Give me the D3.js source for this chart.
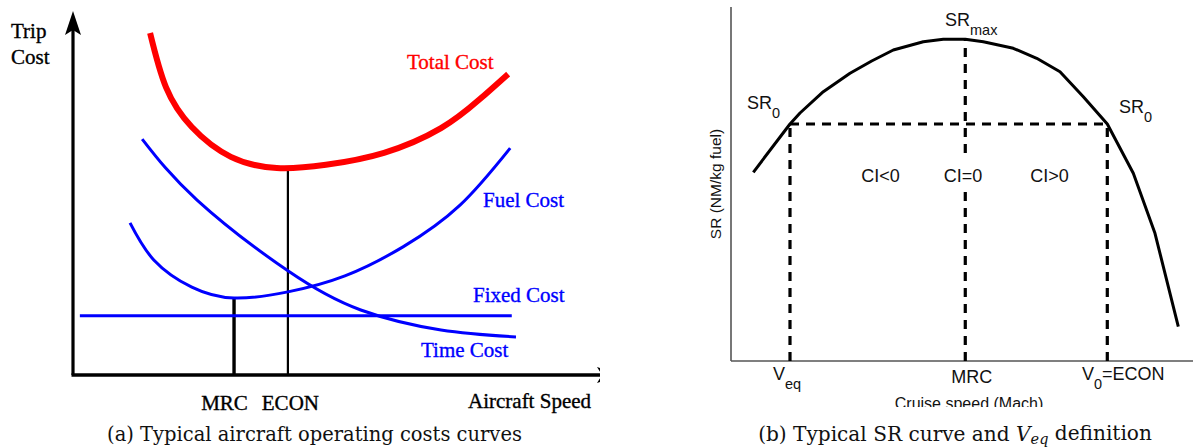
<!DOCTYPE html>
<html>
<head>
<meta charset="utf-8">
<script src="https://cdn.jsdelivr.net/npm/d3@7"></script>
<style>
  html, body { margin: 0; padding: 0; background: #fff; }
  svg { display: block; }
</style>
</head>
<body>
<svg id="chart" width="1193" height="448"></svg>
<script>
// ---------- (a) operating cost curves: [speed, cost] in arbitrary units ----------
const totalCost = [[1.46,9.42],[1.76,7.93],[2.25,6.83],[2.99,6.01],[3.86,5.70],[4.79,5.79],[5.89,6.12],[6.97,6.80],[7.69,7.58],[8.24,8.29]];
const fuelCost  = [[1.08,4.19],[1.53,3.17],[2.25,2.42],[3.05,2.12],[4.07,2.29],[5.15,2.73],[6.25,3.53],[7.33,4.68],[8.28,6.25]];
const timeCost  = [[1.31,6.50],[2.35,4.82],[4.07,2.87],[5.45,1.79],[6.97,1.24],[8.39,1.05]];
const fixedCost = [[0.13,1.63],[8.31,1.63]];
const costSpeeds = [{name:"MRC", speed:3.05, cost:2.12}, {name:"ECON", speed:4.07, cost:5.70}];

// ---------- (b) specific range curve: [speed, SR] in normalised units ----------
const srCurve = [[4.83,53.31],[12.77,66.95],[14.94,70.06],[19.98,76.07],[25.76,81.27],[30.45,84.75],[35.13,87.85],[41.62,90.20],[45.95,90.88],[50.71,90.88],[54.61,90.20],[61.10,88.33],[66.17,85.51],[71.21,81.72],[76.26,74.66],[81.45,66.95],[87.08,53.02],[91.77,36.07],[96.82,9.69]];
const srZero = 66.95, srMax = 90.88;
const srSpeeds = {veq: 12.77, mrc: 50.71, v0: 81.45};
const ciLabels = ["CI<0", "CI=0", "CI>0"];

const svg = d3.select("#chart");
const serif = "'Liberation Serif', 'Times New Roman', serif";
const sans = "'Liberation Sans', Arial, sans-serif";
const capFont = "'DejaVu Serif', serif";

// ================= panel (a) =================
const defs = svg.append("defs");
defs.append("clipPath").attr("id", "clipA").append("rect").attr("x", 0).attr("y", 0).attr("width", 600).attr("height", 448);
defs.append("clipPath").attr("id", "clipB").append("rect").attr("x", 690).attr("y", 0).attr("width", 503).attr("height", 407);

const gA = svg.append("g").attr("clip-path", "url(#clipA)");
const xA = d3.scaleLinear().domain([0, 10]).range([73, 601]);
const yA = d3.scaleLinear().domain([0, 10]).range([375, 12]);
const lineA = d3.line().x(d => xA(d[0])).y(d => yA(d[1])).curve(d3.curveNatural);

// axes with arrow heads
gA.append("line").attr("x1", xA(0)).attr("y1", yA(0)).attr("x2", xA(0)).attr("y2", 22)
  .attr("stroke", "#000").attr("stroke-width", 3.2);
gA.append("line").attr("x1", xA(0) - 1.5).attr("y1", yA(0)).attr("x2", 600).attr("y2", yA(0))
  .attr("stroke", "#000").attr("stroke-width", 3.4);
gA.append("path")
  .attr("d", `M${xA(0)},11 L${xA(0)+8},35 L${xA(0)},30 L${xA(0)-8},35 Z`).attr("fill", "#000");
gA.append("path")
  .attr("d", `M621,${yA(0)} L597,${yA(0)-8} L602,${yA(0)} L597,${yA(0)+8} Z`).attr("fill", "#000");

// vertical markers at MRC and ECON
gA.selectAll(".marker").data(costSpeeds).join("line")
  .attr("x1", d => xA(d.speed)).attr("x2", d => xA(d.speed))
  .attr("y1", yA(0)).attr("y2", d => yA(d.cost))
  .attr("stroke", "#000").attr("stroke-width", (d, i) => i === 0 ? 3.4 : 2.2);

// cost curves
const curves = [
  {data: fixedCost, color: "#0000ff", w: 3},
  {data: timeCost, color: "#0000ff", w: 3},
  {data: fuelCost, color: "#0000ff", w: 3},
  {data: totalCost, color: "#ff0000", w: 6}
];
gA.selectAll(".curve").data(curves).join("path")
  .attr("d", d => lineA(d.data))
  .attr("fill", "none").attr("stroke", d => d.color).attr("stroke-width", d => d.w)
  .attr("stroke-linecap", "butt");

// labels
const labelsA = [
  {t: "Total Cost", x: 407, y: 69, c: "#ff0000"},
  {t: "Fuel Cost", x: 483, y: 207, c: "#0000ff"},
  {t: "Fixed Cost", x: 473, y: 302, c: "#0000ff"},
  {t: "Time Cost", x: 421, y: 357, c: "#0000ff"},
  {t: "Trip", x: 11, y: 38, c: "#000"},
  {t: "Cost", x: 11, y: 64, c: "#000"},
  {t: "Aircraft Speed", x: 468, y: 408, c: "#000"}
];
gA.selectAll(".lab").data(labelsA).join("text")
  .attr("x", d => d.x).attr("y", d => d.y).text(d => d.t)
  .attr("font-family", serif).attr("font-size", 21).attr("fill", d => d.c)
  .attr("stroke", d => d.c).attr("stroke-width", 0.35);
gA.selectAll(".tick").data(costSpeeds).join("text")
  .attr("x", (d, i) => xA(d.speed) + (i === 0 ? -9.5 : 2.5)).attr("y", 410)
  .attr("text-anchor", "middle").text(d => d.name)
  .attr("font-family", serif).attr("font-size", 21).attr("fill", "#000")
  .attr("stroke", "#000").attr("stroke-width", 0.35);

// captions, sized to their measured line widths
function fitWidth(sel, target) {
  const w = sel.node().getComputedTextLength();
  const size = parseFloat(sel.attr("font-size"));
  if (w > 0) sel.attr("font-size", size * target / w);
}
const capA = svg.append("text").attr("x", 314.5).attr("y", 441).attr("text-anchor", "middle")
  .attr("font-family", capFont).attr("font-size", 17).attr("fill", "#111")
  .text("(a) Typical aircraft operating costs curves");
fitWidth(capA, 415);

// ================= panel (b) =================
const gB = svg.append("g").attr("clip-path", "url(#clipB)");
const xB = d3.scaleLinear().domain([0, 100]).range([731, 1193]);
const yB = d3.scaleLinear().domain([0, 100]).range([361, 7]);

gB.append("line").attr("x1", xB(0)).attr("x2", xB(0)).attr("y1", yB(100)).attr("y2", yB(0))
  .attr("stroke", "#555").attr("stroke-width", 1.6);
gB.append("line").attr("x1", xB(0)).attr("x2", xB(100)).attr("y1", yB(0)).attr("y2", yB(0))
  .attr("stroke", "#555").attr("stroke-width", 1.6);

// dashed guide lines
const dash = "9,7";
const guides = [
  [srSpeeds.veq, 0, srSpeeds.veq, srZero],
  [srSpeeds.v0, 0, srSpeeds.v0, srZero],
  [srSpeeds.mrc, 0, srSpeeds.mrc, srMax],
  [srSpeeds.veq, srZero, srSpeeds.v0, srZero]
];
gB.selectAll(".guide").data(guides).join("line")
  .attr("x1", d => xB(d[0])).attr("y1", d => yB(d[1]))
  .attr("x2", d => xB(d[2])).attr("y2", d => yB(d[3]))
  .attr("stroke", "#000").attr("stroke-width", 3.2).attr("stroke-dasharray", dash);

// SR curve
gB.append("path").datum(srCurve)
  .attr("d", d3.line().x(d => xB(d[0])).y(d => yB(d[1])))
  .attr("fill", "none").attr("stroke", "#000").attr("stroke-width", 3).attr("stroke-linejoin", "round");

// label with optional subscript and trailing text
function subLabel(g, x, y, main, sub, tail, size, subSize, anchor) {
  const t = g.append("text").attr("x", x).attr("y", y)
    .attr("font-family", sans).attr("font-size", size).attr("fill", "#111")
    .attr("text-anchor", anchor || "start");
  t.append("tspan").text(main);
  if (sub) t.append("tspan").attr("dy", 9).attr("font-size", subSize).text(sub);
  if (tail) t.append("tspan").attr("dy", -9).text(tail);
  return t;
}
subLabel(gB, 945, 26, "SR", "max", null, 18, 14.5);
subLabel(gB, 747, 109, "SR", "0", null, 18, 14.5);
subLabel(gB, 1119, 113, "SR", "0", null, 18, 14.5);
subLabel(gB, 773, 380, "V", "eq", null, 18, 14.5);
subLabel(gB, 1082, 380, "V", "0", "=ECON", 18, 14.5);
subLabel(gB, xB(srSpeeds.mrc) + 6.5, 383, "MRC", null, null, 18, 14.5, "middle");

// CI region labels (the middle one masks the MRC guide)
const ciX = [880.5, 963, 1049.5];
gB.append("rect").attr("x", 941).attr("y", 160).attr("width", 44).attr("height", 29).attr("fill", "#fff");
gB.selectAll(".ci").data(ciLabels).join("text")
  .attr("x", (d, i) => ciX[i]).attr("y", 182).attr("text-anchor", "middle")
  .attr("font-family", sans).attr("font-size", 18).attr("fill", "#111").text(d => d);

gB.append("text").attr("x", 969).attr("y", 409).attr("text-anchor", "middle")
  .attr("font-family", sans).attr("font-size", 16).attr("fill", "#111").text("Cruise speed (Mach)");
gB.append("text").attr("transform", "translate(721,184) rotate(-90)").attr("text-anchor", "middle")
  .attr("font-family", sans).attr("font-size", 15.5).attr("fill", "#111").text("SR (NM/kg fuel)");

const capB = svg.append("text").attr("x", 955).attr("y", 441).attr("text-anchor", "middle")
  .attr("font-family", capFont).attr("font-size", 17).attr("fill", "#111");
capB.append("tspan").text("(b) Typical SR curve and ");
capB.append("tspan").attr("font-style", "italic").text("V");
capB.append("tspan").attr("font-style", "italic").attr("font-size", "0.72em").attr("dy", "0.18em").text("eq");
capB.append("tspan").attr("dy", "-0.18em").text(" definition");
fitWidth(capB, 394);
</script>
</body>
</html>
